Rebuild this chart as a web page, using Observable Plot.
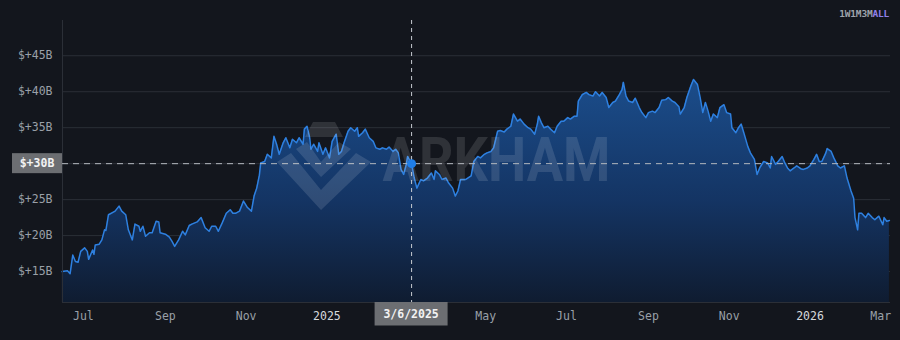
<!DOCTYPE html>
<html><head><meta charset="utf-8">
<script src="https://cdn.jsdelivr.net/npm/d3@7"></script>
<script src="https://cdn.jsdelivr.net/npm/@observablehq/plot@0.6"></script>
<style>
html,body{margin:0;padding:0;background:#13161d;}
#wrap{position:relative;width:900px;height:340px;overflow:hidden;background:#13161d;}
#btns{position:absolute;top:8px;right:11px;font:bold 9.5px "DejaVu Sans Mono",monospace;letter-spacing:-0.2px;color:#9ea3ab;}
#btns .on{color:#8f80e8;}
#logo{position:absolute;left:275px;top:122px;width:98px;height:90px;pointer-events:none;}
</style></head><body><div id="wrap"></div>
<script>
const dates = [
"2024-06-15","2024-06-19","2024-06-21","2024-06-23","2024-06-25","2024-06-27","2024-06-29","2024-07-02","2024-07-04","2024-07-05",
"2024-07-08","2024-07-09","2024-07-10","2024-07-13","2024-07-15","2024-07-17","2024-07-18","2024-07-20","2024-07-23","2024-07-25",
"2024-07-28","2024-07-30","2024-08-02","2024-08-04","2024-08-07","2024-08-09","2024-08-12","2024-08-13","2024-08-15","2024-08-17",
"2024-08-20","2024-08-22","2024-08-25","2024-08-27","2024-08-28","2024-09-01","2024-09-04","2024-09-06","2024-09-08","2024-09-11",
"2024-09-14","2024-09-16","2024-09-19","2024-09-21","2024-09-25","2024-09-28","2024-10-01","2024-10-04","2024-10-06","2024-10-09",
"2024-10-11","2024-10-14","2024-10-17","2024-10-20","2024-10-22","2024-10-24","2024-10-27","2024-10-30","2024-11-02","2024-11-05",
"2024-11-07","2024-11-09","2024-11-11","2024-11-12","2024-11-15","2024-11-17","2024-11-20","2024-11-22","2024-11-24","2024-11-26",
"2024-11-29","2024-12-01","2024-12-04","2024-12-06","2024-12-09","2024-12-11","2024-12-14","2024-12-15","2024-12-17","2024-12-19",
"2024-12-20","2024-12-22","2024-12-25","2024-12-26","2024-12-29","2024-12-31",
"2025-01-03","2025-01-05","2025-01-08","2025-01-10","2025-01-12","2025-01-14","2025-01-17","2025-01-19","2025-01-22","2025-01-24",
"2025-01-25","2025-01-28","2025-01-30","2025-02-02","2025-02-05","2025-02-07","2025-02-10","2025-02-12","2025-02-15","2025-02-17",
"2025-02-20","2025-02-22","2025-02-24","2025-02-26","2025-02-28","2025-03-02","2025-03-03","2025-03-05","2025-03-06","2025-03-08",
"2025-03-10","2025-03-13","2025-03-15","2025-03-18","2025-03-21","2025-03-23","2025-03-24","2025-03-27","2025-03-29","2025-04-01",
"2025-04-03","2025-04-06","2025-04-08","2025-04-10","2025-04-12","2025-04-16","2025-04-20","2025-04-22","2025-04-25","2025-04-27",
"2025-04-30","2025-05-02","2025-05-05","2025-05-07","2025-05-10","2025-05-12","2025-05-15","2025-05-17","2025-05-20","2025-05-22",
"2025-05-25","2025-05-27","2025-05-30","2025-06-02","2025-06-04","2025-06-07","2025-06-09","2025-06-10","2025-06-12","2025-06-14",
"2025-06-17","2025-06-19","2025-06-22","2025-06-24","2025-06-27","2025-06-29","2025-07-02","2025-07-04","2025-07-07","2025-07-09",
"2025-07-10","2025-07-13","2025-07-16","2025-07-18","2025-07-21","2025-07-23","2025-07-26","2025-07-28","2025-07-31","2025-08-02",
"2025-08-05","2025-08-07","2025-08-10","2025-08-12","2025-08-13","2025-08-15","2025-08-17","2025-08-20","2025-08-22","2025-08-25",
"2025-08-27","2025-08-30","2025-09-01","2025-09-04","2025-09-06","2025-09-09","2025-09-11","2025-09-14","2025-09-16","2025-09-19",
"2025-09-21","2025-09-24","2025-09-25","2025-09-28","2025-09-30","2025-10-03","2025-10-05","2025-10-08","2025-10-10","2025-10-12",
"2025-10-14","2025-10-16","2025-10-18","2025-10-20","2025-10-23","2025-10-25","2025-10-28","2025-10-30","2025-11-02","2025-11-03",
"2025-11-06","2025-11-08","2025-11-10","2025-11-12","2025-11-15","2025-11-17","2025-11-20","2025-11-22","2025-11-24","2025-11-27",
"2025-11-30","2025-12-02","2025-12-03","2025-12-06","2025-12-08","2025-12-11","2025-12-13","2025-12-15","2025-12-17","2025-12-20",
"2025-12-22","2025-12-25","2025-12-27","2025-12-30",
"2026-01-01","2026-01-04","2026-01-06","2026-01-08","2026-01-10","2026-01-13","2026-01-14","2026-01-17","2026-01-19","2026-01-22",
"2026-01-24","2026-01-27","2026-01-29","2026-02-01","2026-02-03","2026-02-04","2026-02-06","2026-02-07","2026-02-09","2026-02-12",
"2026-02-14","2026-02-17","2026-02-19","2026-02-22","2026-02-25","2026-02-26","2026-02-28","2026-03-02"
];
const values = [
15.0,15.1,14.7,17.3,16.4,16.3,17.8,18.3,17.8,16.7,
18.0,17.4,18.7,18.8,19.4,20.8,20.7,22.9,23.2,23.4,
24.1,23.4,22.9,20.8,19.4,21.6,21.3,20.6,21.3,19.9,
20.4,20.4,22.0,21.9,20.4,20.2,19.8,19.2,18.5,19.4,
20.6,20.1,21.4,21.6,21.9,22.5,21.1,20.6,21.3,21.3,
20.6,21.8,23.1,23.6,23.1,23.1,23.4,24.8,23.9,23.4,
25.5,26.6,28.4,30.1,30.3,31.3,30.8,33.8,32.7,31.3,
32.9,33.6,32.2,33.4,32.9,33.6,32.7,34.8,35.2,33.6,
32.0,32.7,31.7,32.9,31.3,32.2,
30.8,33.1,34.1,31.3,31.7,32.9,34.5,35.0,34.5,35.0,
33.8,34.3,34.8,33.6,33.1,32.2,32.0,32.2,32.0,32.3,
31.7,32.0,31.5,29.2,28.5,29.9,31.0,30.3,30.0,28.0,
26.6,27.8,27.6,28.0,28.7,27.8,29.0,28.5,27.8,28.0,
27.3,26.6,25.5,26.2,27.8,27.8,28.3,30.3,31.0,30.8,
31.3,31.5,31.7,32.2,34.5,34.6,34.4,34.8,35.2,36.9,
35.9,36.2,35.5,35.0,34.8,34.1,35.5,36.6,35.7,35.0,
35.2,34.8,34.3,35.2,35.9,35.9,36.4,36.2,36.6,36.6,
38.7,39.6,39.9,39.6,39.4,40.0,39.4,39.9,39.2,37.8,
38.5,38.7,39.6,40.3,41.3,39.4,38.7,38.5,39.1,37.8,
37.1,36.4,37.1,37.3,37.1,37.8,38.8,38.9,39.2,38.7,
38.5,37.9,36.9,37.8,39.2,40.8,41.7,41.0,39.2,37.1,
38.5,37.3,35.9,36.9,36.4,37.8,38.2,37.1,36.9,35.0,
34.3,35.0,35.5,34.3,32.4,31.5,30.6,28.5,29.4,30.3,
30.1,29.4,31.0,29.9,30.3,31.0,30.1,29.4,29.0,29.4,
29.7,29.3,29.2,29.4,
29.7,30.6,31.3,30.3,30.3,31.5,32.1,31.7,30.8,29.7,
29.4,29.7,28.0,26.2,25.2,22.5,20.8,23.1,23.1,22.5,
23.1,22.5,22.2,22.7,21.5,22.5,22.0,22.1
];
const yTicks = [15, 20, 25, 30, 35, 40, 45];
const xTickDates = ["2024-07-01","2024-09-01","2024-11-01","2025-01-01","2025-05-01","2025-07-01","2025-09-01","2025-11-01","2026-01-01","2026-03-01"];
const xTickLabels = ["Jul","Sep","Nov","2025","May","Jul","Sep","Nov","2026","Mar"];
const yearTicks = ["2025","2026"];
const crossDate = "2025-03-06";
const crossValue = 30;
const crossDateLabel = "3/6/2025";
const crossValueLabel = "$+30B";
const rangeButtons = ["1W","1M","3M","ALL"];
const activeRange = "ALL";
const watermark = "ARKHAM";

const yMin = 10.7, yMax = 49.9;
const xStart = new Date("2024-06-15T06:00:00Z"), xEnd = new Date("2026-03-02T20:00:00Z");
const data = dates.map((d, i) => ({date: new Date(d + "T00:00:00Z"), value: values[i]}));
const ticks = xTickDates.map((d, i) => ({date: new Date(d + "T00:00:00Z"), label: xTickLabels[i]}));
const mono = '"DejaVu Sans Mono", monospace';
const NS = "http://www.w3.org/2000/svg";

const defs = () => {
  const g = document.createElementNS(NS, "defs");
  g.innerHTML = `<linearGradient id="areaGrad" x1="0" y1="0" x2="0" y2="1">
    <stop offset="0" stop-color="#1b4d8b"/><stop offset="0.55" stop-color="#143463"/><stop offset="1" stop-color="#0f1c31"/></linearGradient>`;
  return g;
};

const chart = Plot.plot({
  width: 900, height: 340,
  marginLeft: 62, marginRight: 10, marginTop: 20, marginBottom: 38,
  style: {background: "#13161d", color: "#9aa0a8", fontFamily: mono, fontSize: "11.5px", overflow: "visible"},
  x: {type: "utc", domain: [xStart, xEnd], axis: null},
  y: {domain: [yMin, yMax], axis: null},
  marks: [
    defs,
    Plot.ruleY(yTicks, {stroke: "#2b2f37", strokeWidth: 1}),
    Plot.areaY(data, {x: "date", y1: yMin, y2: "value", fill: "url(#areaGrad)", curve: "linear"}),
    Plot.lineY(data, {x: "date", y: "value", stroke: "#2e80e0", strokeWidth: 1.5}),
    Plot.ruleY([yMin], {stroke: "#2b2f37"}),
    Plot.ruleX([xStart], {stroke: "#2b2f37"}),
    Plot.text([watermark], {frameAnchor: "middle", dx: 20, dy: 0, text: d => d, fontSize: 62, fontWeight: "bold",
      fontFamily: "Roboto, 'DejaVu Sans', sans-serif", fill: "#ffffff", fillOpacity: 0.12, className: "wm"}),
    Plot.ruleX([new Date(crossDate + "T00:00:00Z")], {stroke: "#c6cad0", strokeDasharray: "4,4", strokeWidth: 1}),
    Plot.ruleY([crossValue], {stroke: "#b4b8be", strokeDasharray: "6,5", strokeWidth: 1}),
    Plot.dot([{date: new Date(crossDate + "T00:00:00Z"), value: crossValue}], {x: "date", y: "value", r: 4.5, fill: "#1f7ee8"}),
    Plot.text(yTicks.filter(v => v !== crossValue), {x: xStart, y: d => d, text: d => `$+${d}B`, textAnchor: "end", dx: -10, fill: "#9aa0a8"}),
    Plot.text(ticks.slice(0, -1), {x: "date", y: yMin, dy: 14, text: "label",
      fill: d => yearTicks.includes(d.label) ? "#d6d9de" : "#9aa0a8",
      fontWeight: d => yearTicks.includes(d.label) ? "bold" : "normal"}),
    Plot.text(ticks.slice(-1), {x: "date", y: yMin, dy: 14, dx: 3, text: "label", textAnchor: "end", fill: "#9aa0a8"})
  ]
});

const wrap = document.getElementById("wrap");
wrap.appendChild(chart);

// stretch watermark text to its width
const wm = chart.querySelector(".wm text");
if (wm) { wm.setAttribute("textLength", 228); wm.setAttribute("lengthAdjust", "spacingAndGlyphs"); }

// crosshair label boxes using the plot's scales
const xs = chart.scale("x"), ys = chart.scale("y");
const cx = xs.apply(new Date(crossDate + "T00:00:00Z"));
const cy = ys.apply(crossValue);
const by = ys.apply(yMin);
function box(x, y, w, h, label) {
  const g = document.createElementNS(NS, "g");
  const r = document.createElementNS(NS, "rect");
  r.setAttribute("x", x); r.setAttribute("y", y); r.setAttribute("width", w); r.setAttribute("height", h);
  r.setAttribute("fill", "#6c6e72");
  const t = document.createElementNS(NS, "text");
  t.setAttribute("x", x + w / 2); t.setAttribute("y", y + h / 2); t.setAttribute("dy", "0.35em");
  t.setAttribute("text-anchor", "middle"); t.setAttribute("fill", "#f2f2f2");
  t.setAttribute("font-weight", "bold"); t.setAttribute("font-family", mono); t.setAttribute("font-size", "11.5px");
  t.textContent = label;
  g.appendChild(r); g.appendChild(t);
  chart.appendChild(g);
}
box(12, cy - 10, 50, 20, crossValueLabel);
box(cx - 36.5, by, 73, 23.5, crossDateLabel);

// range buttons
const btns = document.createElement("div");
btns.id = "btns";
btns.innerHTML = rangeButtons.map(b => `<span class="${b === activeRange ? "on" : ""}">${b}</span>`).join("");
wrap.appendChild(btns);

// watermark logo
const logo = document.createElementNS(NS, "svg");
logo.setAttribute("id", "logo");
logo.setAttribute("viewBox", "0 0 98 90");
logo.innerHTML = `<g fill="#ffffff" fill-opacity="0.12">
  <polygon points="2,40 46,88 96,40 81,31 46,68 16,31"/>
  <polygon points="21,27 46,55 76,27 64,20 46,40 32,20"/>
  <polygon points="30,15 38,0 60,0 68,15"/>
</g>`;
wrap.appendChild(logo);
</script>
</body></html>
